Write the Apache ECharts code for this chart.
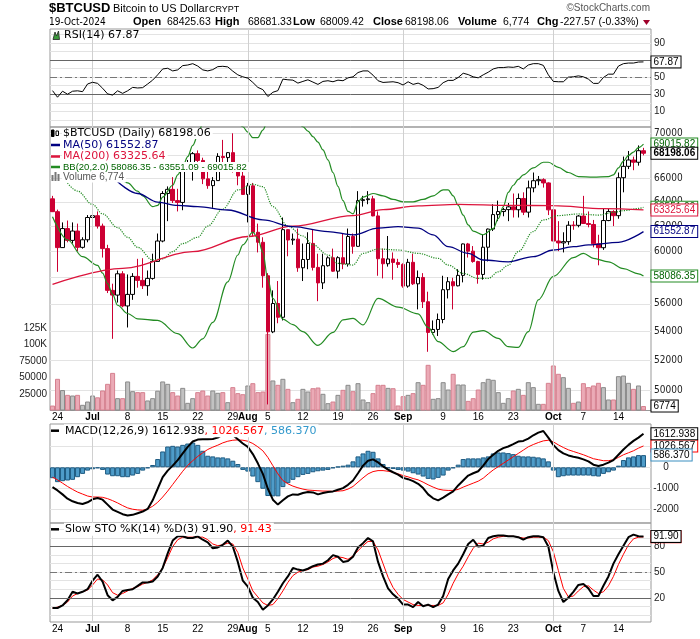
<!DOCTYPE html>
<html><head><meta charset="utf-8">
<script src="https://cdn.jsdelivr.net/npm/echarts@6/dist/echarts.min.js"></script>
<style>html,body{margin:0;padding:0;background:#fff}#c{width:700px;height:639px}</style>
</head><body><div id="c"></div>
<script>
// ---------------- DATA ----------------
const firstDate = '2024-06-23';
const opens = [64250,63180,60280,61800,60850,61600,60300,60900,62700,62850,
62000,60200,57000,56650,58250,55850,56700,58050,57750,57350,
57900,59200,60800,64700,65050,64100,63950,66700,67150,68160,
67560,65950,65370,65800,67910,67810,68250,66800,66200,64620,
65350,61500,60700,58100,53990,56030,55030,61710,60880,60950,
58710,59350,60610,58740,57560,58870,59480,58450,59490,59000,
61160,60380,64100,64180,64250,62830,59410,59020,59390,59120,
58970,57320,59130,57490,57970,56160,53950,54160,54870,57050,
57650,57340,58130,60570,60000,59190,58200,60310,61760,62940,
63190,63350,63580,63340,64280,63140,65180,65790,65880,65600,
63330,60800,60650,60750,62070,62060,62820,62210,62130,60580,
60270,62450,63190,62850,66050,67040,67600,67400,68425.63];
const highs = [64500,63350,62300,62450,62300,62200,61100,62900,63800,63200,
62200,60500,57500,58500,58450,58200,58300,59400,59450,58500,
59800,61400,64900,65300,66100,65100,67400,67600,68300,68450,
67800,67100,66100,68200,69400,68300,70000,66900,66800,65600,
65600,62200,61100,58300,57000,57700,62700,61750,61400,61800,
60600,61500,61700,59800,59800,59600,60200,59600,61400,61800,
61400,64900,64500,64900,64500,63200,60200,61200,59900,59400,
59050,59400,59800,58500,58300,56900,54800,55300,58100,58000,
57950,58600,60600,60650,60400,59250,61300,61800,63800,64100,
63500,63900,64700,64700,64800,65800,66500,66200,66000,65650,
64100,62400,61500,62400,62400,62900,64500,63200,62500,61300,
63400,63400,63300,66500,67900,68400,67900,68900,68681.33];
const lows = [63150,58400,60250,60700,60600,60000,60200,60700,62300,61800,
59500,56800,53500,56100,55750,54300,56300,57200,57100,56600,
57800,59200,60700,62400,63900,63200,63300,66600,65800,66600,
65500,65100,63500,65800,66700,67100,66500,65400,64600,62300,
61200,59900,57200,49100,53900,54600,54800,59600,60500,58400,
57700,58600,58500,56200,57100,58800,58400,57900,58600,58800,
59800,60350,63600,63800,62800,58100,57900,58800,57800,58700,
57200,57200,57400,55600,55700,52600,53800,53700,54600,56400,
55600,57300,57600,59500,59100,57500,57800,59200,61600,62400,
62800,62400,62700,62700,62900,62700,64800,65400,65200,62900,
60100,60000,59900,60500,61700,61900,62200,61900,60300,58900,
60100,62400,62000,62600,64800,66800,66700,67100,68009.42];
const closes = [63180,60280,61800,60850,61600,60300,60900,62700,62850,62000,
60200,57000,56650,58250,55850,56700,58050,57750,57350,57900,
59200,60800,64700,65050,64100,63950,66700,67150,68160,67560,
65950,65370,65800,67910,67810,68250,66800,66200,64620,65350,
61500,60700,58100,53990,56030,55030,61710,60880,60950,58710,
59350,60610,58740,57560,58870,59480,58450,59490,59000,61160,
60380,64100,64180,64250,62830,59410,59020,59390,59120,58970,
57320,59130,57490,57970,56160,53950,54160,54870,57050,57650,
57340,58130,60570,60000,59190,58200,60310,61760,62940,63190,
63350,63580,63340,64280,63140,65180,65790,65880,65600,63330,
60800,60650,60750,62070,62060,62820,62210,62130,60580,60270,
62450,63190,62850,66050,67040,67600,67400,68425.63,68198.06];
const volumes = [7500,48000,31000,23700,22700,23700,8600,13600,22700,20000,
30300,40400,57000,18700,18700,44000,29300,27800,27800,15200,
18700,30000,44000,40400,27800,22700,34300,11600,18700,27800,
30300,22700,30300,26800,27800,12600,35400,26300,24700,37900,
41400,27800,28800,116000,45500,38900,48000,32800,12600,17700,
32800,28800,33800,34800,25300,11100,13600,23700,31300,38900,
29300,41400,16700,12600,26300,38900,38900,34300,33800,7600,
21700,23700,26300,42900,38900,69200,17700,18700,42900,31800,
55600,39400,39400,14600,18700,31800,42900,48000,46500,27800,
11600,18700,30300,32800,23700,42900,35400,10100,10100,41900,
68200,55600,50500,34300,11600,13600,41400,35400,37900,41900,
35400,16700,16700,52000,53000,41900,32800,37900,6774];
// overlays, read at the days where they are visible: [day index, value]
const ma50Pts = [[13,65700],[17,64700],[21,63970],[25,63700],[29,63600],[35,63320],[42,62500],[48,61960],[55,61560],[60,61290],[65,61830],[69,61960],[73,61830],[76,61290],[79,60350],[83,59830],[86,59310],[91,59170],[96,59570],[100,60090],[104,60350],[107,60490],[113,60700],[118,61552.87]];
const ma200Pts = [[0,57450],[14,58670],[28,59960],[39,61160],[48,62000],[60,62860],[66,63350],[73,63660],[81,63790],[91,63700],[100,63680],[110,63430],[118,63325.64]];
const bbUpperPts = [[13,66400],[15,65600],[17,64900],[18,64500],[20,63600],[21,63700],[22,64400],[24,65400],[25,66300],[26,67000],[27,67900],[28,68900],[29,69800],[30,70900],[32,71800],[34,72200],[36,71800],[37,71000],[38,70600],[39,70100],[40,69600],[41,69600],[42,70300],[43,71200],[45,72000],[47,71800],[49,71000],[50,70600],[51,70200],[52,69700],[53,69200],[54,68500],[55,67600],[56,66500],[57,65300],[58,64100],[59,63200],[60,63000],[61,64000],[62,64400],[64,64700],[66,64500],[68,64200],[70,64000],[72,64000],[74,64200],[76,64500],[78,65000],[79,65000],[80,64500],[81,63700],[82,62900],[83,62100],[84,61600],[86,61300],[88,61800],[89,62600],[90,63600],[91,64800],[92,65400],[93,65900],[94,66300],[96,66900],[98,67400],[99,67400],[101,66950],[103,66500],[105,66150],[108,66100],[111,66150],[112,66300],[113,66900],[114,67500],[115,68000],[116,68300],[117,68700],[118,69015.82]];
const bbMidPts = [[3,65580],[5,64900],[8,63780],[10,63000],[13,61880],[15,61100],[17,60300],[20,59310],[22,59400],[24,59960],[26,60600],[29,61100],[31,62000],[34,63400],[37,65000],[40,65490],[42,65280],[44,63600],[47,62000],[50,61200],[52,60500],[55,59700],[57,59050],[60,58920],[62,59830],[65,60170],[69,60090],[73,59830],[77,59440],[79,58920],[82,58280],[85,57900],[87,57900],[89,58400],[91,58900],[93,59960],[96,61560],[98,62500],[101,62860],[105,62990],[109,62900],[112,63120],[114,63260],[117,63450],[118,63551.09]];
const bbLowerPts = [[0,62770],[3,60900],[6,59570],[9,58900],[10,58300],[11,57500],[12,56700],[13,55900],[15,55300],[17,54920],[21,54800],[25,53860],[28,52860],[30,53500],[32,54660],[35,57640],[37,59700],[38,60500],[40,61520],[41,61000],[42,59900],[43,57800],[44,56400],[46,54900],[48,54500],[50,54000],[53,53040],[56,53950],[58,54840],[60,54950],[62,54480],[65,56410],[69,55770],[73,55280],[75,54300],[77,53300],[80,52610],[82,52950],[84,53970],[86,54080],[89,53530],[91,52950],[93,52900],[95,54000],[97,56300],[100,58050],[104,59500],[106,59830],[108,59440],[111,59170],[114,58640],[117,58250],[118,58086.35]];
const rsi = [34.2,26.5,33.5,30,33.5,34,33,42,44,42.7,
37,30.4,29,34,31,34,38,37.3,37.7,42,
46.5,52.7,59.6,60.4,57.3,58.5,63.5,64.2,65.8,63,
58.5,57.3,58.8,62.3,62.7,62,57,52.7,50.4,48.8,
43.8,38,35.4,27.3,32.3,34.2,47.7,46.9,46.5,43,
45,46.9,44.2,41.5,45,45.8,44.6,46.5,45.8,49.2,
50.4,55.4,57.3,57.3,52.3,45.8,43.8,44.2,44.6,43.5,
40.8,44.6,41.5,43,40.4,36.2,36.5,38,43.5,46.2,
46.2,49.6,54.6,53,50.4,49.2,52.7,55.8,59.6,61.2,
61.2,61.9,61.5,62.7,59.6,64.2,65.8,65.8,63.8,52.7,
45,44.6,44.6,50,50.4,51.5,50.4,47.7,42.7,42.7,
49.6,53.5,53.5,63,65.8,66.5,66.5,67.7,67.87];
const macdLine = [-952,-1111,-1302,-1508,-1635,-1714,-1762,-1683,-1540,-1476,
-1556,-1794,-2032,-2143,-2254,-2317,-2286,-2206,-2127,-2000,
-1587,-1032,-476,-159,79,349,667,984,1238,1333,
1349,1349,1365,1429,1587,1667,1556,1349,1143,984,
635,190,-317,-1032,-1556,-1794,-1587,-1397,-1302,-1317,
-1238,-1190,-1206,-1302,-1238,-1190,-1159,-1079,-1000,-841,
-635,-286,79,317,381,238,48,-111,-238,-349,
-508,-571,-667,-794,-1000,-1302,-1492,-1587,-1460,-1302,
-1159,-873,-635,-397,-286,-190,79,397,603,794,
921,1000,1111,1238,1270,1381,1540,1667,1746,1429,
1079,825,667,571,508,460,381,286,127,63,
127,222,349,603,857,1079,1270,1429,1612.938];
const macdSignal = [-476,-603,-762,-921,-1063,-1190,-1286,-1381,-1429,-1429,
-1444,-1508,-1603,-1714,-1841,-1952,-2016,-2048,-2063,-2000,
-1873,-1683,-1429,-1143,-825,-508,-190,95,317,524,
698,857,968,1063,1175,1254,1302,1317,1302,1254,
1143,984,794,476,79,-317,-635,-794,-905,-984,
-1048,-1095,-1111,-1127,-1143,-1143,-1159,-1143,-1127,-1048,
-921,-714,-508,-317,-206,-159,-159,-190,-238,-317,
-397,-460,-540,-603,-714,-841,-952,-1048,-1095,-1111,
-1111,-1063,-952,-857,-762,-667,-524,-317,-127,32,
190,349,508,667,825,984,1095,1190,1270,1302,
1222,1079,952,841,762,683,603,508,413,365,
317,317,365,476,603,698,794,921,1026.567];
const macdHist = [-524,-714,-667,-635,-603,-476,-317,-159,-95,-48,
-127,-349,-429,-429,-476,-476,-397,-317,-159,-48,
111,397,762,1000,1032,1000,1079,1143,1190,1079,
794,556,524,476,476,429,317,159,-127,-206,
-444,-714,-1032,-1381,-1397,-1397,-952,-762,-603,-476,
-365,-317,-238,-190,-159,-127,-48,32,79,127,
286,524,667,794,746,429,159,-48,-79,-127,
-159,-206,-286,-349,-444,-556,-587,-508,-397,-159,
-48,127,397,429,429,429,476,524,667,714,
714,683,635,556,524,524,508,476,429,286,
-159,-476,-429,-397,-397,-397,-397,-397,-429,-444,
-317,-238,-159,79,349,476,524,587,586.37];
const stoK = [8,8,11,17,27,25,27,30,40,47,
39,23,17,21,28,29,30,34,38,38,
39,45,55,72,87,92,92,90,90,92,
88,85,78,79,82,87,80,62,40,33,
20,15,6,11,18,27,37,45,55,53,
52,54,57,59,60,64,70,68,62,63,
68,79,84,90,86,62,45,31,24,19,
12,12,9,15,10,12,9,12,22,42,
52,60,71,83,88,80,81,90,92,93,
93,92,92,91,88,91,92,92,91,80,
50,28,15,20,27,35,36,31,22,22,
34,45,60,71,81,91,94,92,91.90];
const stoD = [8,9,11,15,22,25,27,29,35,42,
41,35,26,23,25,28,31,33,36,38,
41,47,55,67,80,88,91,91,91,91,
91,88,83,81,82,84,83,73,55,42,
28,21,14,11,12,19,28,38,46,50,
52,53,56,57,59,62,66,68,67,65,
69,75,81,86,86,76,60,44,32,24,
18,15,12,11,11,11,11,11,14,24,
37,48,57,68,78,84,83,85,89,91,
92,92,92,91,90,90,91,91,91,87,
74,52,31,21,22,28,33,34,29,25,
27,34,45,59,71,82,89,91,91.43];
const dateTicks = [['2024-06-24','24'],['2024-07-01','Jul'],['2024-07-08','8'],['2024-07-15','15'],['2024-07-22','22'],['2024-07-29','29'],['2024-08-01','Aug'],['2024-08-05','5'],['2024-08-12','12'],['2024-08-19','19'],['2024-08-26','26'],['2024-09-01','Sep'],['2024-09-09','9'],['2024-09-16','16'],['2024-09-23','23'],['2024-10-01','Oct'],['2024-10-07','7'],['2024-10-14','14']];
const monthStarts = ['2024-07-01','2024-08-01','2024-09-01','2024-10-01'];
const priceTicks = [50000,52000,54000,56000,58000,60000,62000,64000,66000,68000,70000];
const volTicks = [25000,50000,75000,100000,125000];
const rsiGrid = [0,10,20,30,40,50,60,70,80,90,100];
const rsiLabels = [10,30,50,90];
const macdGrid = [-2000,-1000,0,1000];
const macdLabels = [-2000,-1000,0];
const stoGrid = [0,10,20,30,40,50,60,70,80,90,100];
const stoLabels = [20,50,80];

// ---------------- BUILD ----------------
const N = closes.length;
const categories = [];
(function(){ const t0 = Date.parse(firstDate+'T00:00:00Z');
  for (let i=0;i<N;i++) categories.push(new Date(t0+i*86400000).toISOString().slice(0,10));
  categories.push(' '); })();
const tickMap = new Map(dateTicks.map(([d,t]) => [categories.indexOf(d), t]));
const monthIdx = monthStarts.map(d => categories.indexOf(d));
const last = N-1;

const FA = '"Liberation Sans", Arial, sans-serif';
const FN = '"Liberation Sans Narrow", "Arial Narrow", "DejaVu Sans Condensed", sans-serif';
const FL = '"DejaVu Sans", Verdana, sans-serif';
const GRID = '#e3e3e3';
const RED = '#CC0033', NAVY = '#000080', CRIM = '#DC143C', GREEN = '#228B22', DGREEN = '#006400';

const vLines = monthIdx.map(i => ({xAxis: i, lineStyle:{color:'#d0d0d0', width:1, type:'solid'}}));
function mLines(extra){ return {silent:true, symbol:'none', animation:false, label:{show:false}, data: vLines.concat(extra||[])}; }
function tag(border, color, bold){
  return {show:true, fontSize:10, fontFamily:FA, fontWeight: bold?'bold':'normal', color: color||'#000',
    backgroundColor:'#fff', borderColor:border, borderWidth:1, padding:[1,2,0,2], lineHeight:10};
}
function endTag(str, border, color, bold){ return Object.assign(tag(border,color,bold), {distance:8, formatter:()=>str}); }
function pointTag(coord, str, border, color, bold){
  return {silent:true, animation:false, symbol:'circle', symbolSize:0, z:20,
    data:[{coord}], label:Object.assign(tag(border,color,bold), {position:'right', distance:8, formatter:()=>str})};
}
function xAx(gi, labels){
  return {type:'category', gridIndex:gi, data:categories, boundaryGap:true,
    axisLine:{show:false}, axisTick:{show:false}, splitLine:{show:false},
    axisLabel: labels ? {show:true, interval:(idx)=>tickMap.has(idx), margin:2, fontSize:10, fontFamily:FA, color:'#000',
      formatter:(v, idx)=>{ const t = tickMap.get(idx)||''; return /^[A-Z]/.test(t) ? '{b|'+t+'}' : t; },
      rich:{b:{fontWeight:'bold', fontSize:10, fontFamily:FA, color:'#000'}}} : {show:false}};
}
function yAx(gi, min, max, grid, labels, extra){
  return Object.assign({type:'value', gridIndex:gi, position:'right', min, max,
    axisLine:{show:false}, axisTick:{show:false, customValues:grid},
    splitLine:{show:true, lineStyle:{color:GRID, width:1}},
    axisLabel:{customValues:labels, margin:3, fontSize:10, fontFamily:FA, color:'#222', formatter:(v)=>String(v)}}, extra||{});
}
function overlay(data, color, width, type, z, label){
  return {type:'line', xAxisIndex:1, yAxisIndex:1, data, symbol:'none', smooth:0.35, smoothMonotone:'x',
    lineStyle:{color, width, type}, z, silent:true, endLabel:label};
}
const gridBase = {left:50, right:49, show:true, borderColor:'#999', borderWidth:1, containLabel:false, outerBoundsMode:'none'};

const candleData = closes.map((c,i) => [opens[i], c, lows[i], highs[i]]);
const volData = volumes.map((v,i) => ({value:v, itemStyle: closes[i] < opens[i]
  ? {color:'#EBAAB6', borderColor:'#D5808F'} : {color:'#C2C2C2', borderColor:'#8A8A8A'}}));

const option = {
  animation:false, backgroundColor:'#fff',
  grid:[
    Object.assign({top:29, height:98}, gridBase),
    Object.assign({top:127, height:283.5}, gridBase),
    Object.assign({top:424, height:99}, gridBase),
    Object.assign({top:523, height:99}, gridBase)
  ],
  xAxis:[xAx(0,false), xAx(1,true), xAx(2,false), xAx(3,true)],
  yAxis:[
    yAx(0, -8.4, 106.4, rsiGrid, rsiLabels),
    {type:'log', gridIndex:1, position:'right', min:48712, max:70579,
      axisLine:{show:false}, axisTick:{show:false, customValues:priceTicks},
      splitLine:{show:true, lineStyle:{color:GRID, width:1}},
      axisLabel:{customValues:priceTicks, margin:3, fontSize:10, fontFamily:FN, color:'#222', formatter:(v)=>String(v)}},
    {type:'value', gridIndex:1, position:'left', min:0, max:429500,
      axisLine:{show:false}, axisTick:{show:false, customValues:volTicks}, splitLine:{show:false},
      axisLabel:{customValues:volTicks, margin:3, fontSize:10, fontFamily:FA, color:'#222',
        formatter:(v)=> v>=100000 ? (v/1000)+'K' : String(v)}},
    yAx(2, -2678, 2082, macdGrid, macdLabels, {axisLabel:{customValues:macdLabels, margin:15, align:'center', fontSize:10, fontFamily:FA, color:'#222', formatter:(v)=>String(v)}}),
    yAx(3, -8.4, 107.6, stoGrid, stoLabels)
  ],
  series:[
    // RSI
    {type:'line', xAxisIndex:0, yAxisIndex:0, data:rsi, symbol:'none', silent:true,
      lineStyle:{color:'#000', width:1}, z:5, endLabel:endTag(rsi[last].toFixed(2), '#000'),
      markLine:mLines([{yAxis:70, lineStyle:{color:'#666', width:1, type:'solid'}},
                       {yAxis:30, lineStyle:{color:'#666', width:1, type:'solid'}},
                       {yAxis:50, lineStyle:{color:'#777', width:1, type:[7,3,2,3]}}])},
    // Volume
    {type:'bar', xAxisIndex:1, yAxisIndex:2, data:volData, barCategoryGap:'0%', silent:true,
      itemStyle:{borderWidth:1}, z:1, markLine:mLines(),
      markPoint:pointTag([last, volumes[last]], String(volumes[last]), '#000')},
    // Candles
    {type:'candlestick', xAxisIndex:1, yAxisIndex:1, data:candleData, barWidth:4, silent:true, z:2,
      itemStyle:{color:'#fff', color0:RED, borderColor:'#000', borderColor0:RED, borderWidth:1},
      markPoint:pointTag([last, closes[last]], closes[last].toFixed(2), '#000', '#000', true)},
    overlay(bbMidPts, GREEN, 1.2, 'dotted', 3, endTag(bbMidPts[bbMidPts.length-1][1].toFixed(2), GREEN, DGREEN)),
    overlay(bbUpperPts, GREEN, 1.2, 'solid', 3, endTag(bbUpperPts[bbUpperPts.length-1][1].toFixed(2), GREEN, DGREEN)),
    overlay(bbLowerPts, GREEN, 1.2, 'solid', 3, endTag(bbLowerPts[bbLowerPts.length-1][1].toFixed(2), GREEN, DGREEN)),
    overlay(ma200Pts, CRIM, 1.3, 'solid', 4, endTag(ma200Pts[ma200Pts.length-1][1].toFixed(2), CRIM, CRIM)),
    overlay(ma50Pts, NAVY, 1.3, 'solid', 4, endTag(ma50Pts[ma50Pts.length-1][1].toFixed(2), NAVY, NAVY)),
    // MACD
    {type:'bar', xAxisIndex:2, yAxisIndex:3, data:macdHist, barCategoryGap:'0%', silent:true, z:1,
      itemStyle:{color:'#4E9CC9', borderColor:'#1E5B82', borderWidth:1}, markLine:mLines(),
      markPoint:pointTag([last, macdHist[last]], macdHist[last].toFixed(3), '#3A8FC0')},
    {type:'line', xAxisIndex:2, yAxisIndex:3, data:macdSignal, symbol:'none', silent:true,
      lineStyle:{color:'#FF0000', width:1}, z:3, endLabel:endTag(macdSignal[last].toFixed(3), '#FF0000')},
    {type:'line', xAxisIndex:2, yAxisIndex:3, data:macdLine, symbol:'none', silent:true,
      lineStyle:{color:'#000', width:2}, z:4, endLabel:endTag(macdLine[last].toFixed(3), '#000')},
    // Slow stochastic
    {type:'line', xAxisIndex:3, yAxisIndex:4, data:stoD, symbol:'none', silent:true,
      lineStyle:{color:'#FF0000', width:1}, z:3, endLabel:endTag(stoD[last].toFixed(2), '#FF0000'),
      markLine:mLines([{yAxis:80, lineStyle:{color:'#666', width:1, type:'solid'}},
                       {yAxis:20, lineStyle:{color:'#666', width:1, type:'solid'}},
                       {yAxis:50, lineStyle:{color:'#777', width:1, type:[7,3,2,3]}}])},
    {type:'line', xAxisIndex:3, yAxisIndex:4, data:stoK, symbol:'none', silent:true,
      lineStyle:{color:'#000', width:2}, z:4, endLabel:endTag(stoK[last].toFixed(2), '#000')}
  ]
};

// ---------------- TEXT / LEGENDS ----------------
function T(x, y, text, st){ return {type:'text', x, y, z:100, silent:true,
  style:Object.assign({text, fill:'#000', fontSize:11, fontFamily:FL, verticalAlign:'middle', align:'left'}, st||{})}; }
function L(x1, y, x2, color, w){ return {type:'line', z:101, silent:true, shape:{x1, y1:y, x2, y2:y}, style:{stroke:color, lineWidth:w}}; }
function Rc(x, y, w, h, fill, stroke){ return {type:'rect', z:101, silent:true, shape:{x, y, width:w, height:h}, style:{fill, stroke, lineWidth:1}}; }
const bgLeg = {backgroundColor:'#fff', padding:[0,2,0,1]};
const fmtVol = volumes[last].toLocaleString('en-US');
const chg = closes[last] - closes[last-1];
const HB = {fontFamily:FA, fontWeight:'bold', fontSize:11};
const HV = {fontFamily:FA, fontSize:10.5};
const g = [
  T(49, 8.5, '$BTCUSD', {fontFamily:FA, fontWeight:'bold', fontSize:13}),
  T(113, 9, 'Bitcoin to US Dollar', {fontFamily:FA, fontSize:11}),
  T(209, 9.5, 'CRYPT', {fontFamily:FA, fontSize:9}),
  T(650, 8, '\u00A9StockCharts.com', {fontFamily:FA, fontSize:10, align:'right', fill:'#555'}),
  T(49, 22, '19-Oct-2024', {fontFamily:FN, fontSize:10}),
  T(133, 22, 'Open', HB), T(167, 22, opens[last].toFixed(2), HV),
  T(215, 22, 'High', HB), T(248, 22, highs[last].toFixed(2), HV),
  T(293, 22, 'Low', HB), T(320, 22, lows[last].toFixed(2), HV),
  T(373, 22, 'Close', HB), T(405, 22, closes[last].toFixed(2), HV),
  T(458, 22, 'Volume', HB), T(503, 22, fmtVol, HV),
  T(537, 22, 'Chg', HB), T(560, 22, chg.toFixed(2)+' ('+(chg/closes[last-1]*100).toFixed(2)+'%)', HV),
  {type:'polygon', z:101, silent:true, shape:{points:[[643,20],[650,20],[646.5,25]]}, style:{fill:'#A0002A'}},
  // RSI label
  {type:'polygon', z:101, silent:true, shape:{points:[[53,39.5],[55,32],[56.5,36],[58.5,31],[59.5,39.5]]}, style:{fill:'#3C9A3C', stroke:'#222', lineWidth:0.8}},
  T(64, 35.5, 'RSI(14) ' + rsi[last].toFixed(2)),
  // price legend
  Rc(51.5, 130, 2.5, 6.5, '#000', '#000'), L(52.75, 128.5, 52.75, '#000', 1),
  Rc(56, 131, 2.5, 4.5, '#fff', '#000'),
  T(62, 133.5, '$BTCUSD (Daily) ' + closes[last].toFixed(2), bgLeg),
  L(51, 145, 60, NAVY, 2.5),
  T(62, 145, 'MA(50) ' + ma50Pts[ma50Pts.length-1][1].toFixed(2), Object.assign({fill:NAVY}, bgLeg)),
  L(51, 156.5, 60, CRIM, 2.5),
  T(62, 156.5, 'MA(200) ' + ma200Pts[ma200Pts.length-1][1].toFixed(2), Object.assign({fill:CRIM}, bgLeg)),
  L(51, 167, 60, GREEN, 2.5),
  T(62, 167, 'BB(20,2.0) ' + bbLowerPts[bbLowerPts.length-1][1].toFixed(2) + ' - ' + bbMidPts[bbMidPts.length-1][1].toFixed(2) + ' - ' + bbUpperPts[bbUpperPts.length-1][1].toFixed(2), Object.assign({fill:DGREEN, fontFamily:FA, fontSize:9.5}, bgLeg)),
  Rc(51.5, 175, 2, 6, '#777', null), Rc(54.5, 172, 2, 9, '#777', null), Rc(57.5, 174, 2, 7, '#777', null),
  T(62, 177.5, 'Volume ' + fmtVol, Object.assign({fill:'#555', fontFamily:FA, fontSize:10}, bgLeg)),
  // MACD legend
  L(51, 430.7, 59, '#000', 2.5),
  T(64, 430.7, '{k|MACD(12,26,9) ' + macdLine[last].toFixed(3) + '}{r|, ' + macdSignal[last].toFixed(3) + '}{b|, ' + macdHist[last].toFixed(3) + '}',
    {backgroundColor:'#fff', padding:[1,2,1,1], rich:{k:{fill:'#000', fontSize:11, fontFamily:FL}, r:{fill:'#FF0000', fontSize:11, fontFamily:FL}, b:{fill:'#3399CC', fontSize:11, fontFamily:FL}}}),
  // STO legend
  L(51, 529.3, 59, '#000', 2.5),
  T(64, 529.3, '{k|Slow STO %K(14) %D(3) ' + stoK[last].toFixed(2) + '}{r|, ' + stoD[last].toFixed(2) + '}',
    {backgroundColor:'#fff', padding:[1,2,1,1], rich:{k:{fill:'#000', fontSize:11, fontFamily:FL}, r:{fill:'#FF0000', fontSize:11, fontFamily:FL}}})
];
option.graphic = {elements: g};

const chart = echarts.init(document.getElementById('c'), null, {renderer:'canvas', width:700, height:639});
chart.setOption(option);
</script></body></html>
